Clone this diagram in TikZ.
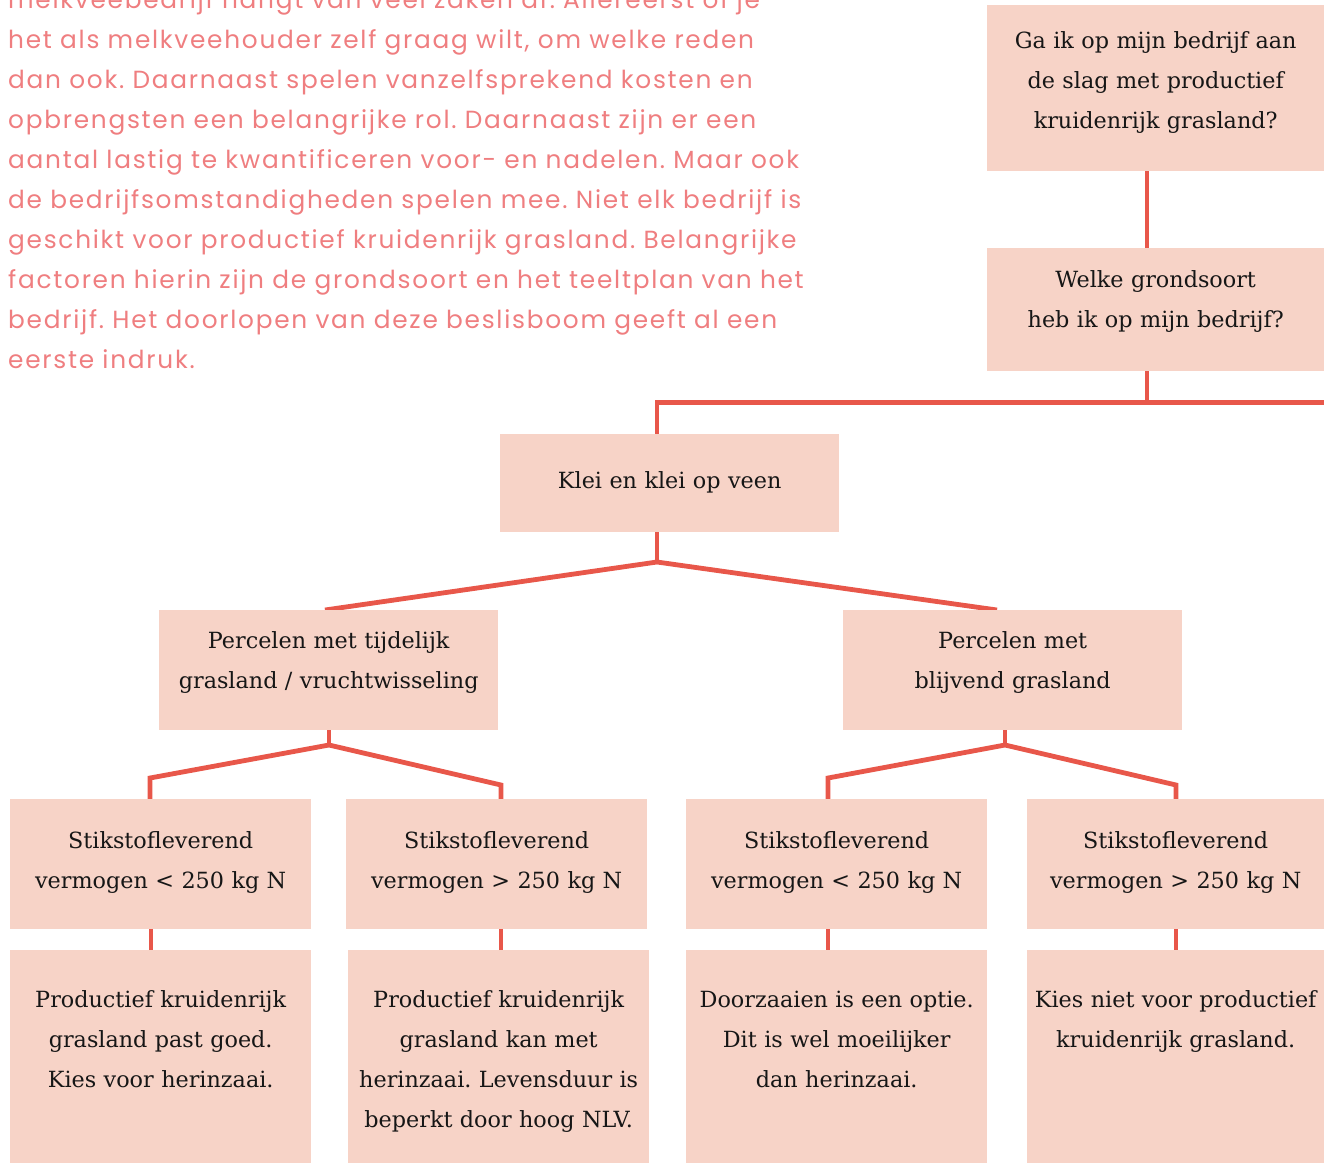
\documentclass[tikz,border=0pt]{standalone}
\usepackage{fontspec}
\setmainfont{DejaVu Serif}
\newfontfamily\parafont[LetterSpace=7]{Poppins}
\usetikzlibrary{calc}
\definecolor{boxfill}{RGB}{247,211,199}
\definecolor{linered}{RGB}{232,87,74}
\definecolor{paracol}{RGB}{239,126,128}
\definecolor{boxtext}{RGB}{22,22,22}
\pgfdeclarelayer{bg}
\pgfsetlayers{bg,main}
\frenchspacing
\tikzset{
  box/.style={fill=boxfill, draw=none, inner sep=0pt, anchor=north west,
    align=center, text=boxtext, font=\fontsize{22.3}{40}\selectfont},
  conn/.style={draw=linered, line width=4.8pt, line join=miter, line cap=butt},
  para/.style={inner sep=0pt, anchor=base west, align=left, text width=900pt,
    text=paracol, font=\parafont\fontsize{24.8}{40}\selectfont\frenchspacing}
}
\begin{document}
\begin{tikzpicture}[x=1pt,y=-1pt]
\useasboundingbox (0,0) rectangle (1324,1163);

\node[para] (intro) at (8,8) {melkveebedrijf hangt van veel zaken af. Allereerst of je\\
het als melkveehouder zelf graag wilt, om welke reden\\
dan ook. Daarnaast spelen vanzelfsprekend kosten en\\
opbrengsten een belangrijke rol. Daarnaast zijn er een\\
aantal lastig te kwantificeren voor- en nadelen. Maar ook\\
de bedrijfsomstandigheden spelen mee. Niet elk bedrijf is\\
geschikt voor productief kruidenrijk grasland. Belangrijke\\
factoren hierin zijn de grondsoort en het teeltplan van het\\
bedrijf. Het doorlopen van deze beslisboom geeft al een\\
eerste indruk.};

% level 1-2
\node[box, text width=337pt, text height=43pt, text depth=123pt] (q1) at (987,5)
  {Ga ik op mijn bedrijf aan\\de slag met productief\\kruidenrijk grasland?};
\node[box, text width=337pt, text height=39.5pt, text depth=83.5pt] (q2) at (987,248)
  {Welke grondsoort\\heb ik op mijn bedrijf?};
% level 3
\node[box, text width=339pt, text height=54pt, text depth=44pt] (klei) at (500,434)
  {Klei en klei op veen};
% level 4
\node[box, text width=339pt, text height=38pt, text depth=82pt] (p1) at (159,610)
  {Percelen met tijdelijk\\grasland / vruchtwisseling};
\node[box, text width=339pt, text height=38pt, text depth=82pt] (p2) at (843,610)
  {Percelen met\\blijvend grasland};
% level 5
\node[box, text width=301pt, text height=49pt, text depth=81pt] (s1) at (10,799)
  {Stikstofleverend\\vermogen < 250 kg N};
\node[box, text width=301pt, text height=49pt, text depth=81pt] (s2) at (346,799)
  {Stikstofleverend\\vermogen > 250 kg N};
\node[box, text width=301pt, text height=49pt, text depth=81pt] (s3) at (686,799)
  {Stikstofleverend\\vermogen < 250 kg N};
\node[box, text width=297pt, text height=49pt, text depth=81pt] (s4) at (1027,799)
  {Stikstofleverend\\vermogen > 250 kg N};
% level 6
\node[box, text width=301pt, text height=57pt, text depth=156pt] (r1) at (10,950)
  {Productief kruidenrijk\\grasland past goed.\\Kies voor herinzaai.};
\node[box, text width=301pt, text height=57pt, text depth=156pt] (r2) at (348,950)
  {Productief kruidenrijk\\grasland kan met\\herinzaai. Levensduur is\\beperkt door hoog NLV.};
\node[box, text width=301pt, text height=57pt, text depth=156pt] (r3) at (686,950)
  {Doorzaaien is een optie.\\Dit is wel moeilijker\\dan herinzaai.};
\node[box, text width=297pt, text height=57pt, text depth=156pt] (r4) at (1027,950)
  {Kies niet voor productief\\kruidenrijk grasland.};

% junction coordinates
\coordinate (jx) at (1147,402.5);
\coordinate (hl) at (657,402.5);
\coordinate (hr) at (1330,402.5);
\coordinate (kj) at (657,562);
\coordinate (kl) at (325,0);
\coordinate (kr) at (997,0);
\coordinate (pj1) at (329,745);
\coordinate (pj2) at (1005,745);
\coordinate (b1) at (150,778);
\coordinate (b2) at (501,785);
\coordinate (b3) at (828,778);
\coordinate (b4) at (1176,785);
\coordinate (c1) at (151,0);
\coordinate (c2) at (501,0);
\coordinate (c3) at (828,0);
\coordinate (c4) at (1176,0);

\begin{pgfonlayer}{bg}
\draw[conn] (q1.south -| jx) -- (q2.north -| jx);
\draw[conn] (q2.south -| jx) -- (jx);
\draw[conn] (klei.north -| hl) -- (hl) -- (hr);
\draw[conn] (klei.south -| kj) -- (kj);
\draw[conn] (p1.north -| kl) -- (kj) -- (p2.north -| kr);
\draw[conn] (p1.south -| pj1) -- (pj1);
\draw[conn] (s1.north -| b1) -- (b1) -- (pj1) -- (b2) -- (s2.north -| b2);
\draw[conn] (p2.south -| pj2) -- (pj2);
\draw[conn] (s3.north -| b3) -- (b3) -- (pj2) -- (b4) -- (s4.north -| b4);
\draw[conn] (s1.south -| c1) -- (r1.north -| c1);
\draw[conn] (s2.south -| c2) -- (r2.north -| c2);
\draw[conn] (s3.south -| c3) -- (r3.north -| c3);
\draw[conn] (s4.south -| c4) -- (r4.north -| c4);
\end{pgfonlayer}
\end{tikzpicture}
\end{document}
